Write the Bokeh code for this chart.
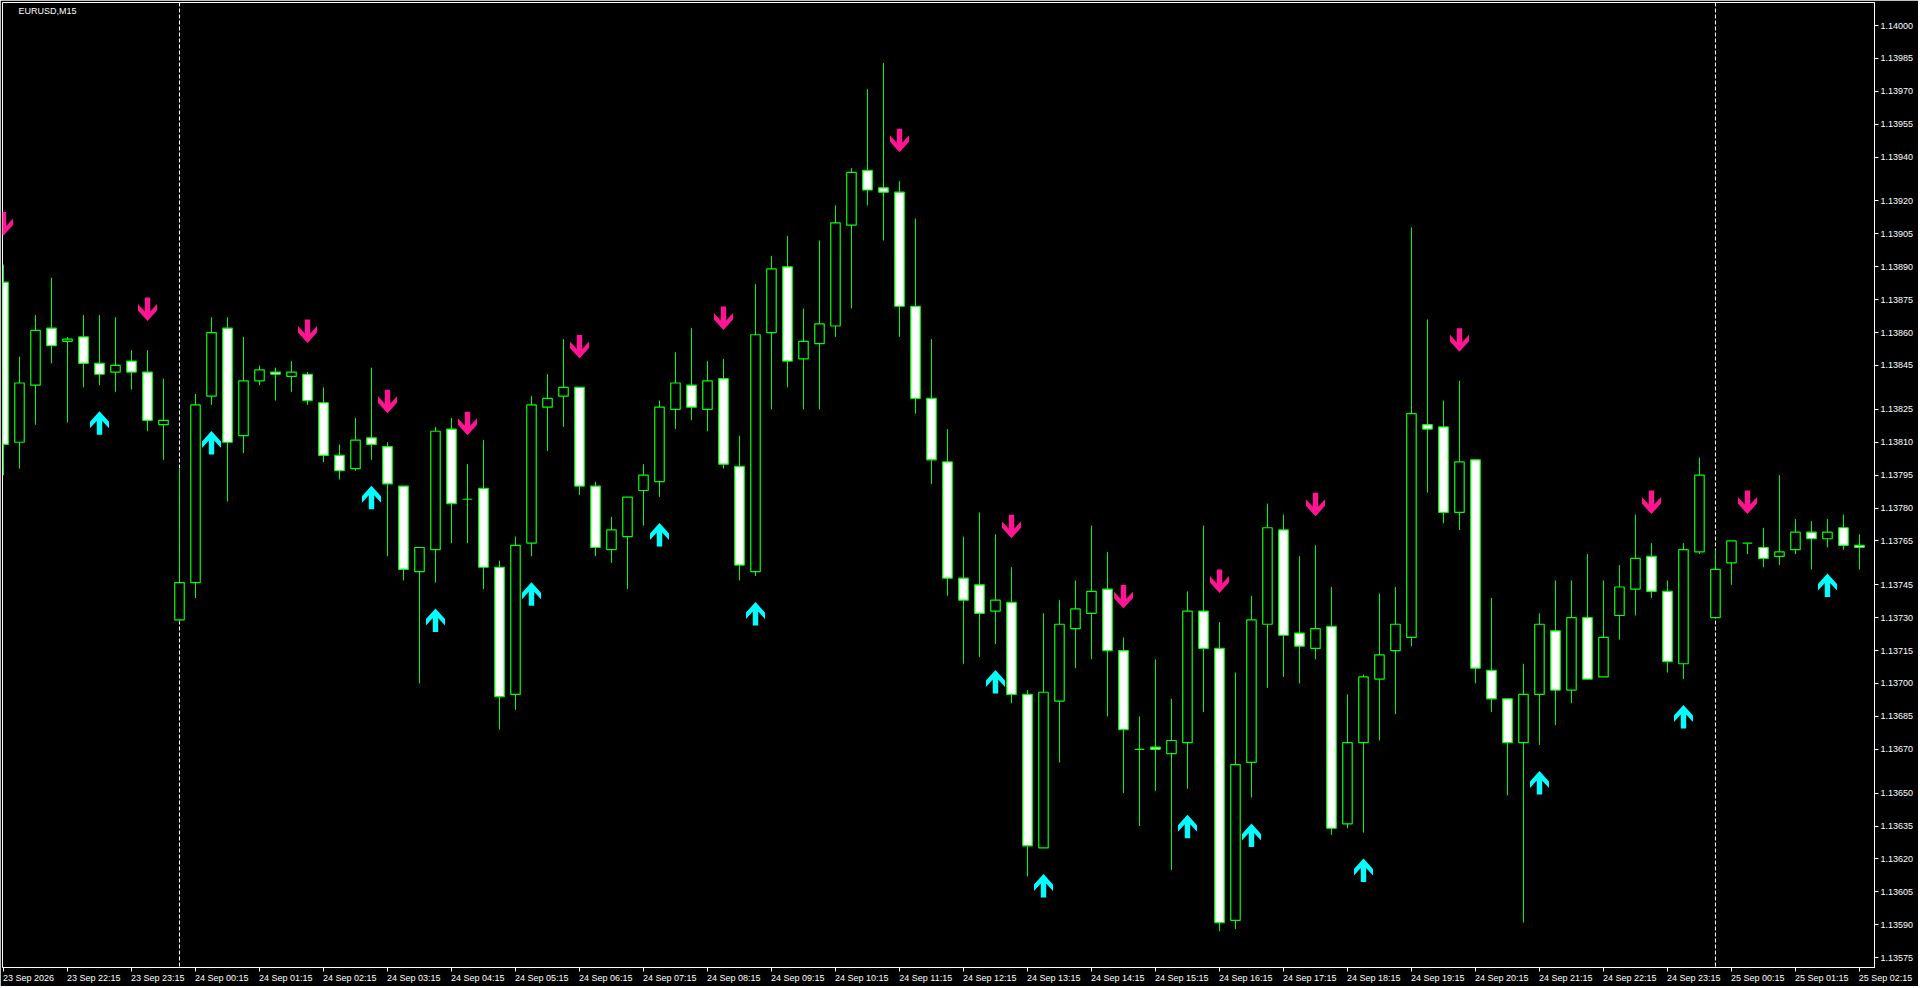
from bokeh.plotting import figure
from bokeh.models import Range1d, FixedTicker, PrintfTickFormatter, Span, Label, ColumnDataSource
from bokeh.embed import file_html
from bokeh.resources import INLINE

symbol_title = "EURUSD,M15"

opens = [1.13883, 1.13810, 1.13836, 1.13862, 1.13856, 1.13858, 1.13846, 1.13842, 1.13847, 1.13842,
         1.13818, 1.13729, 1.13746, 1.13831, 1.13862, 1.13813, 1.13838, 1.13842, 1.13840, 1.13841,
         1.13828, 1.13804, 1.13798, 1.13812, 1.13808, 1.13790, 1.13751, 1.13761, 1.13816, 1.13784,
         1.13789, 1.13753, 1.13695, 1.13764, 1.13826, 1.13831, 1.13835, 1.13790, 1.13761, 1.13767,
         1.13788, 1.13792, 1.13825, 1.13836, 1.13825, 1.13839, 1.13799, 1.13751, 1.13860, 1.13890,
         1.13848, 1.13855, 1.13863, 1.13909, 1.13934, 1.13926, 1.13924, 1.13872, 1.13830, 1.13801,
         1.13748, 1.13745, 1.13733, 1.13737, 1.13695, 1.13625, 1.13692, 1.13725, 1.13732, 1.13743,
         1.13715, 1.13670, 1.13671, 1.13668, 1.13673, 1.13733, 1.13716, 1.13592, 1.13664, 1.13727,
         1.13770, 1.13723, 1.13716, 1.13726, 1.13636, 1.13673, 1.13702, 1.13715, 1.13721, 1.13818,
         1.13817, 1.13778, 1.13802, 1.13706, 1.13693, 1.13673, 1.13695, 1.13724, 1.13697, 1.13730,
         1.13703, 1.13731, 1.13743, 1.13758, 1.13742, 1.13709, 1.13760, 1.13730, 1.13755, 1.13764,
         1.13762, 1.13758, 1.13761, 1.13769, 1.13766, 1.13771, 1.13763]
highs = [1.13891, 1.13849, 1.13868, 1.13885, 1.13858, 1.13868, 1.13868, 1.13867, 1.13852, 1.13852,
         1.13839, 1.13798, 1.13832, 1.13867, 1.13867, 1.13858, 1.13845, 1.13844, 1.13847, 1.13842,
         1.13835, 1.13809, 1.13821, 1.13844, 1.13810, 1.13790, 1.13762, 1.13817, 1.13821, 1.13800,
         1.13811, 1.13756, 1.13767, 1.13831, 1.13841, 1.13857, 1.13835, 1.13792, 1.13776, 1.13785,
         1.13800, 1.13829, 1.13851, 1.13862, 1.13847, 1.13848, 1.13813, 1.13882, 1.13895, 1.13904,
         1.13871, 1.13902, 1.13918, 1.13935, 1.13971, 1.13983, 1.13929, 1.13912, 1.13857, 1.13816,
         1.13767, 1.13778, 1.13768, 1.13753, 1.13697, 1.13732, 1.13738, 1.13747, 1.13772, 1.13760,
         1.13721, 1.13685, 1.13711, 1.13693, 1.13742, 1.13772, 1.13728, 1.13705, 1.13740, 1.13782,
         1.13777, 1.13758, 1.13763, 1.13744, 1.13695, 1.13704, 1.13741, 1.13744, 1.13908, 1.13866,
         1.13829, 1.13838, 1.13802, 1.13739, 1.13693, 1.13709, 1.13732, 1.13747, 1.13747, 1.13759,
         1.13747, 1.13754, 1.13777, 1.13764, 1.13747, 1.13764, 1.13803, 1.13761, 1.13765, 1.13764,
         1.13771, 1.13795, 1.13775, 1.13774, 1.13775, 1.13777, 1.13768]
lows = [1.13795, 1.13798, 1.13818, 1.13846, 1.13819, 1.13835, 1.13836, 1.13833, 1.13834, 1.13815,
        1.13802, 1.13728, 1.13739, 1.13827, 1.13783, 1.13805, 1.13836, 1.13829, 1.13833, 1.13827,
        1.13801, 1.13793, 1.13797, 1.13802, 1.13758, 1.13747, 1.13700, 1.13746, 1.13764, 1.13764,
        1.13743, 1.13679, 1.13688, 1.13758, 1.13806, 1.13817, 1.13786, 1.13758, 1.13755, 1.13743,
        1.13772, 1.13785, 1.13816, 1.13820, 1.13815, 1.13798, 1.13747, 1.13749, 1.13825, 1.13835,
        1.13825, 1.13825, 1.13858, 1.13871, 1.13918, 1.13902, 1.13858, 1.13823, 1.13791, 1.13740,
        1.13709, 1.13712, 1.13718, 1.13691, 1.13612, 1.13625, 1.13664, 1.13707, 1.13711, 1.13685,
        1.13650, 1.13635, 1.13651, 1.13615, 1.13652, 1.13687, 1.13587, 1.13588, 1.13648, 1.13698,
        1.13703, 1.13700, 1.13711, 1.13631, 1.13634, 1.13632, 1.13674, 1.13686, 1.13717, 1.13787,
        1.13773, 1.13770, 1.13700, 1.13687, 1.13649, 1.13591, 1.13672, 1.13681, 1.13691, 1.13702,
        1.13703, 1.13720, 1.13731, 1.13739, 1.13705, 1.13702, 1.13759, 1.13730, 1.13745, 1.13759,
        1.13753, 1.13754, 1.13759, 1.13752, 1.13762, 1.13761, 1.13752]
closes = [1.13809, 1.13837, 1.13861, 1.13854, 1.13857, 1.13846, 1.13841, 1.13845, 1.13842, 1.13820,
          1.13820, 1.13746, 1.13827, 1.13860, 1.13810, 1.13838, 1.13843, 1.13841, 1.13842, 1.13829,
          1.13804, 1.13797, 1.13811, 1.13809, 1.13791, 1.13752, 1.13762, 1.13815, 1.13782, 1.13784,
          1.13753, 1.13694, 1.13763, 1.13827, 1.13830, 1.13835, 1.13790, 1.13762, 1.13770, 1.13785,
          1.13795, 1.13826, 1.13837, 1.13826, 1.13838, 1.13800, 1.13754, 1.13859, 1.13889, 1.13847,
          1.13856, 1.13864, 1.13910, 1.13933, 1.13925, 1.13924, 1.13872, 1.13830, 1.13802, 1.13748,
          1.13738, 1.13732, 1.13738, 1.13695, 1.13626, 1.13696, 1.13727, 1.13734, 1.13742, 1.13715,
          1.13679, 1.13670, 1.13670, 1.13674, 1.13733, 1.13716, 1.13591, 1.13663, 1.13729, 1.13771,
          1.13722, 1.13717, 1.13725, 1.13634, 1.13673, 1.13703, 1.13713, 1.13727, 1.13823, 1.13816,
          1.13778, 1.13801, 1.13707, 1.13693, 1.13673, 1.13695, 1.13727, 1.13697, 1.13730, 1.13702,
          1.13721, 1.13744, 1.13757, 1.13742, 1.13710, 1.13761, 1.13795, 1.13752, 1.13765, 1.13764,
          1.13757, 1.13760, 1.13769, 1.13766, 1.13769, 1.13763, 1.13762]

sell_signals = [0, 9, 19, 24, 29, 36, 45, 56, 63, 70, 76, 82, 91, 103, 109]
buy_signals = [6, 13, 23, 27, 33, 41, 47, 62, 65, 74, 78, 85, 96, 105, 114]
day_separators = [11, 107]

time_tick_pos = list(range(0, 117, 4))
time_labels = ["23 Sep 2026", "23 Sep 22:15", "23 Sep 23:15",
               "24 Sep 00:15", "24 Sep 01:15", "24 Sep 02:15", "24 Sep 03:15", "24 Sep 04:15",
               "24 Sep 05:15", "24 Sep 06:15", "24 Sep 07:15", "24 Sep 08:15", "24 Sep 09:15",
               "24 Sep 10:15", "24 Sep 11:15", "24 Sep 12:15", "24 Sep 13:15", "24 Sep 14:15",
               "24 Sep 15:15", "24 Sep 16:15", "24 Sep 17:15", "24 Sep 18:15", "24 Sep 19:15",
               "24 Sep 20:15", "24 Sep 21:15", "24 Sep 22:15", "24 Sep 23:15",
               "25 Sep 00:15", "25 Sep 01:15", "25 Sep 02:15"]

price_ticks = [1.14000, 1.13985, 1.13970, 1.13955, 1.13940, 1.13920, 1.13905, 1.13890, 1.13875,
               1.13860, 1.13845, 1.13825, 1.13810, 1.13795, 1.13780, 1.13765, 1.13745, 1.13730,
               1.13715, 1.13700, 1.13685, 1.13670, 1.13650, 1.13635, 1.13620, 1.13605, 1.13590,
               1.13575]

# ---------------- layout ----------------
n = len(opens)
W, H = 1918, 986
BL, BT, BR, BB = 2, 2, 44, 19
FRAME_W, FRAME_H = W - BL - BR, H - BT - BB
X0, X1 = -0.0625, n - 1 + 0.94
Y0, Y1 = 1.135705, 1.140105
PX = FRAME_W / (X1 - X0)
PY = FRAME_H / (Y1 - Y0)

LIME = "#00FF00"
PINK = "#FF1493"
CYAN = "#00FFFF"
FONT = "Liberation Sans"
FSIZE = 9

# approximate advance widths (em) of the label font, to left-align the time labels
CHAR_W = {d: 0.556 for d in "0123456789"}
CHAR_W.update({" ": 0.278, ":": 0.278, "S": 0.667, "e": 0.556, "p": 0.556})
NBSP_W = 0.278 * FSIZE


def text_w(s):
    return sum(CHAR_W.get(ch, 0.556) for ch in s) * FSIZE


p = figure(width=W, height=H, output_backend="svg", toolbar_location=None,
           x_range=Range1d(X0, X1), y_range=Range1d(Y0, Y1),
           background_fill_color="black", border_fill_color="black",
           min_border_left=BL, min_border_top=BT, min_border_right=BR, min_border_bottom=BB,
           y_axis_location="right")
p.grid.visible = False
p.outline_line_color = "white"
p.outline_line_width = 1

# x axis: visible ticks are the minor ticks at the bars; labels sit on shifted major ticks
label_pos, label_txt = [], []
for k, t in zip(time_tick_pos, time_labels):
    c = k + (text_w(t) / 2 - 0.5) / PX
    limit = X1 - 0.01
    if c > limit:
        pad = int(round(2 * (c - limit) * PX / NBSP_W))
        t = "\u00a0" * pad + t
        c = limit
    label_pos.append(round(c, 4))
    label_txt.append(t)
p.xaxis.ticker = FixedTicker(ticks=label_pos, minor_ticks=time_tick_pos)
p.xaxis.major_label_overrides = {pos: t for pos, t in zip(label_pos, label_txt)}
p.xaxis.major_tick_line_color = None
p.xaxis.major_tick_out = 4
p.xaxis.major_tick_in = 0
p.xaxis.minor_tick_line_color = "white"
p.xaxis.minor_tick_out = 4
p.xaxis.minor_tick_in = 0
p.xaxis.axis_line_color = "white"
p.xaxis.major_label_standoff = 1
p.xaxis.major_label_text_color = "white"
p.xaxis.major_label_text_font = FONT
p.xaxis.major_label_text_font_size = f"{FSIZE}px"

p.yaxis.ticker = FixedTicker(ticks=price_ticks)
p.yaxis.formatter = PrintfTickFormatter(format="%.5f")
p.yaxis.major_tick_out = 4
p.yaxis.major_tick_in = 0
p.yaxis.minor_tick_line_color = None
p.yaxis.axis_line_color = "white"
p.yaxis.major_tick_line_color = "white"
p.yaxis.major_label_standoff = 2
p.yaxis.major_label_text_color = "white"
p.yaxis.major_label_text_font = FONT
p.yaxis.major_label_text_font_size = f"{FSIZE}px"

for d in day_separators:
    p.add_layout(Span(location=d, dimension="height", line_color="white",
                      line_dash="4 2", line_width=1, level="underlay"))

idx = list(range(n))
src = ColumnDataSource(dict(
    x=idx, o=opens, h=highs, l=lows, c=closes,
    top=[max(o, c) for o, c in zip(opens, closes)],
    bottom=[min(o, c) for o, c in zip(opens, closes)],
    fill=["white" if c < o else "black" for o, c in zip(opens, closes)],
))
p.segment(x0="x", y0="l", x1="x", y1="h", source=src, line_color=LIME, line_width=1)
p.vbar(x="x", width=9.5 / PX, top="top", bottom="bottom", source=src,
       fill_color="fill", line_color=LIME, line_width=1.2)

# arrows (template in px, tip at origin, tail towards +y)
arrow_t = [(0, 0), (9.5, 10.5), (9.5, 17), (2.7, 9.5), (2.7, 23.5), (-2.7, 23.5),
           (-2.7, 9.5), (-9.5, 17), (-9.5, 10.5)]
sx, sy = [], []
for k in sell_signals:
    sx.append([k + ax / PX for ax, ay in arrow_t])
    sy.append([highs[k] + (29 + ay) / PY for ax, ay in arrow_t])
bx, by = [], []
for k in buy_signals:
    bx.append([k + ax / PX for ax, ay in arrow_t])
    by.append([lows[k] - (26 + ay) / PY for ax, ay in arrow_t])
p.patches(sx, sy, fill_color=PINK, line_color=None)
p.patches(bx, by, fill_color=CYAN, line_color=None)

p.add_layout(Label(x=X0 + 16 / PX, y=Y1 - 3 / PY, text=symbol_title, text_align="left",
                   text_baseline="top", text_color="white", text_font=FONT,
                   text_font_size=f"{FSIZE}px"))

open("out.html", "w").write(file_html(p, INLINE))
